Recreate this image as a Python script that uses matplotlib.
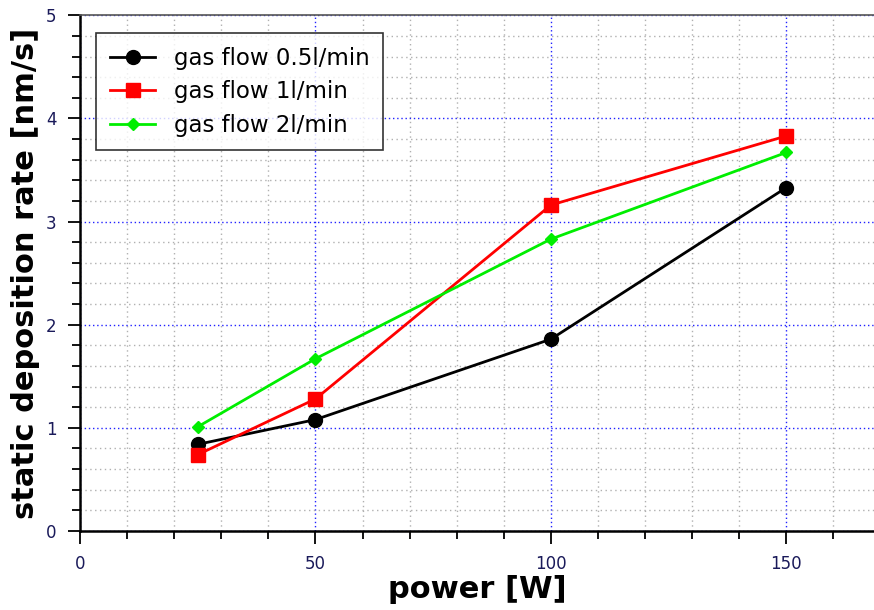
import matplotlib
matplotlib.use("Agg")
import matplotlib.pyplot as plt
from matplotlib.ticker import MultipleLocator

# Data
power = [25, 50, 100, 150]
rate_05 = [0.84, 1.08, 1.86, 3.33]
rate_1 = [0.74, 1.28, 3.16, 3.83]
rate_2 = [1.01, 1.67, 2.83, 3.67]

fig = plt.figure(figsize=(8.74, 6.10), dpi=100)
ax = fig.add_axes([0.0915, 0.1295, 0.9085, 0.8455])

ax.plot(power, rate_05, color="black", linewidth=2.0, marker="o",
        markersize=10, label="gas flow 0.5l/min", zorder=5)
ax.plot(power, rate_1, color="#ff0000", linewidth=2.0, marker="s",
        markersize=10, label="gas flow 1l/min", zorder=5)
ax.plot(power, rate_2, color="#00ee00", linewidth=2.0, marker="D",
        markersize=6, label="gas flow 2l/min", zorder=5)

ax.set_xlim(0, 168.6)
ax.set_ylim(0, 5)
ax.xaxis.set_major_locator(MultipleLocator(50))
ax.xaxis.set_minor_locator(MultipleLocator(10))
ax.yaxis.set_major_locator(MultipleLocator(1))
ax.yaxis.set_minor_locator(MultipleLocator(0.2))

ax.grid(True, which="major", color="#2222ff", linestyle=(0, (1, 2)), linewidth=1.0)
ax.grid(True, which="minor", color="#b0b0b0", linestyle=(0, (1, 2.5)), linewidth=1.0)
ax.set_axisbelow(True)

ax.spines["right"].set_visible(False)
ax.spines["top"].set_color("#555555")
ax.spines["top"].set_linewidth(1.2)
ax.spines["left"].set_linewidth(1.8)
ax.spines["bottom"].set_linewidth(1.8)

ax.tick_params(which="major", direction="out", length=9, width=1.3,
               labelsize=12, labelcolor="#1a1a5a", pad=8)
ax.tick_params(which="minor", direction="out", length=6, width=1.3)

ax.set_xlabel("power [W]", fontsize=22, fontweight="bold", labelpad=2)
ax.set_ylabel("static deposition rate [nm/s]", fontsize=22, fontweight="bold", labelpad=4)

leg = ax.legend(loc="upper left", bbox_to_anchor=(0.02, 0.965), fontsize=16.5,
                frameon=True, fancybox=False, edgecolor="black",
                handlelength=2.0, borderpad=0.6, labelspacing=0.45,
                borderaxespad=0.0, handletextpad=0.8)
leg.get_frame().set_linewidth(1.2)

fig.savefig("out.png", dpi=100)
